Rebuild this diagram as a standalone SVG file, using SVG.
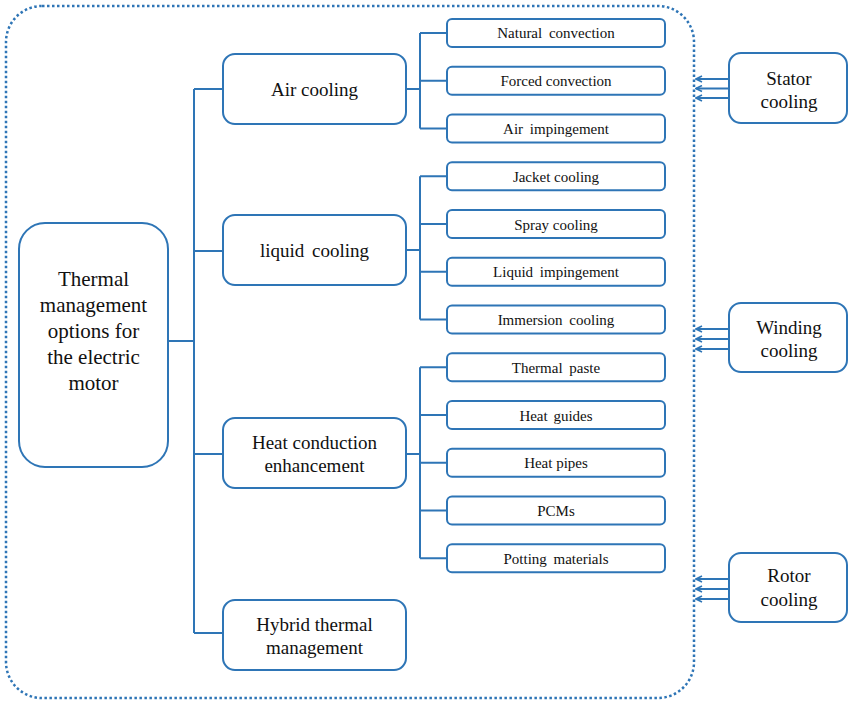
<svg xmlns="http://www.w3.org/2000/svg" width="850" height="702" viewBox="0 0 850 702">
<style>
.box{fill:#fff;stroke:#2E75B6;stroke-width:2}
.ln{fill:none;stroke:#2E75B6;stroke-width:2}
.ar{fill:none;stroke:#2E75B6;stroke-width:1.8}
.t{font-family:"Liberation Serif","DejaVu Serif","Times New Roman",serif;fill:#111;text-anchor:middle}
.big{font-size:21px}
.mid{font-size:19px}
.sm{font-size:15px}
</style>
<defs>
<marker id="ah" markerWidth="8" markerHeight="8" refX="1" refY="4" orient="auto" markerUnits="userSpaceOnUse">
<path d="M7,1 L1,4 L7,7" fill="none" stroke="#2E75B6" stroke-width="1.6"/>
</marker>
</defs>
<rect x="6" y="6" width="688" height="692" rx="36" fill="none" stroke="#2E75B6" stroke-width="2.5" stroke-dasharray="2.5 2.5"/>
<g id="connectors">
<path class="ln" d="M168,341 H194 M194,89 V633 M194,89 H223 M194,251 H223 M194,454 H223 M194,633 H223"/>
<path class="ln" d="M406,89 H420 M420,33 V128.5 M420,33 H447 M420,80.75 H447 M420,128.5 H447"/>
<path class="ln" d="M406,250 H420 M420,176.25 V319.5 M420,176.25 H447 M420,224 H447 M420,271.75 H447 M420,319.5 H447"/>
<path class="ln" d="M406,454 H420 M420,367.25 V558.25 M420,367.25 H447 M420,415 H447 M420,462.75 H447 M420,510.5 H447 M420,558.25 H447"/>
<line class="ar" marker-start="url(#ah)" x1="696" y1="79" x2="729" y2="79"/>
<line class="ar" marker-start="url(#ah)" x1="696" y1="88.5" x2="729" y2="88.5"/>
<line class="ar" marker-start="url(#ah)" x1="696" y1="98" x2="729" y2="98"/>
<line class="ar" marker-start="url(#ah)" x1="696" y1="329" x2="729" y2="329"/>
<line class="ar" marker-start="url(#ah)" x1="696" y1="339" x2="729" y2="339"/>
<line class="ar" marker-start="url(#ah)" x1="696" y1="349" x2="729" y2="349"/>
<line class="ar" marker-start="url(#ah)" x1="696" y1="579" x2="729" y2="579"/>
<line class="ar" marker-start="url(#ah)" x1="696" y1="589" x2="729" y2="589"/>
<line class="ar" marker-start="url(#ah)" x1="696" y1="599" x2="729" y2="599"/>
</g>
<g id="root">
<rect class="box" x="19" y="223" width="149" height="244" rx="26"/>
<text class="t big" font-family="Liberation Serif, serif"><tspan x="93.5" y="286">Thermal</tspan><tspan x="93.5" y="312">management</tspan><tspan x="93.5" y="338">options for</tspan><tspan x="93.5" y="364">the electric</tspan><tspan x="93.5" y="390">motor</tspan></text>
</g>
<g id="air">
<rect class="box" x="223" y="54" width="183" height="70" rx="12"/>
<text class="t mid" x="314.5" y="96">Air cooling</text>
</g>
<g id="liquid">
<rect class="box" x="223" y="215" width="183" height="70" rx="12"/>
<text class="t mid" x="314.5" y="257" word-spacing="3">liquid cooling</text>
</g>
<g id="conduction">
<rect class="box" x="223" y="418" width="183" height="70" rx="12"/>
<text class="t mid"><tspan x="314.5" y="449">Heat conduction</tspan><tspan x="314.5" y="472">enhancement</tspan></text>
</g>
<g id="hybrid">
<rect class="box" x="223" y="600" width="183" height="70" rx="12"/>
<text class="t mid"><tspan x="314.5" y="631">Hybrid thermal</tspan><tspan x="314.5" y="654">management</tspan></text>
</g>
<g id="natural"><rect class="box" x="447" y="19" width="218" height="28" rx="5"/><text class="t sm" x="556" y="38" word-spacing="3">Natural convection</text></g>
<g id="forced"><rect class="box" x="447" y="66.75" width="218" height="28" rx="5"/><text class="t sm" x="556" y="86">Forced convection</text></g>
<g id="airimp"><rect class="box" x="447" y="114.5" width="218" height="28" rx="5"/><text class="t sm" x="556" y="134" word-spacing="3">Air impingement</text></g>
<g id="jacket"><rect class="box" x="447" y="162.25" width="218" height="28" rx="5"/><text class="t sm" x="556" y="182">Jacket cooling</text></g>
<g id="spray"><rect class="box" x="447" y="210" width="218" height="28" rx="5"/><text class="t sm" x="556" y="229.5">Spray cooling</text></g>
<g id="liqimp"><rect class="box" x="447" y="257.75" width="218" height="28" rx="5"/><text class="t sm" x="556" y="277" word-spacing="3">Liquid impingement</text></g>
<g id="immersion"><rect class="box" x="447" y="305.5" width="218" height="28" rx="5"/><text class="t sm" x="556" y="325" word-spacing="3">Immersion cooling</text></g>
<g id="paste"><rect class="box" x="447" y="353.25" width="218" height="28" rx="5"/><text class="t sm" x="556" y="373" word-spacing="3">Thermal paste</text></g>
<g id="guides"><rect class="box" x="447" y="401" width="218" height="28" rx="5"/><text class="t sm" x="556" y="420.5" word-spacing="2">Heat guides</text></g>
<g id="pipes"><rect class="box" x="447" y="448.75" width="218" height="28" rx="5"/><text class="t sm" x="556" y="468">Heat pipes</text></g>
<g id="pcms"><rect class="box" x="447" y="496.5" width="218" height="28" rx="5"/><text class="t sm" x="556" y="516">PCMs</text></g>
<g id="potting"><rect class="box" x="447" y="544.25" width="218" height="28" rx="5"/><text class="t sm" x="556" y="564" word-spacing="3">Potting materials</text></g>
<g id="stator">
<rect class="box" x="729" y="53" width="118" height="70" rx="12"/>
<text class="t mid"><tspan x="789" y="85">Stator</tspan><tspan x="789" y="108">cooling</tspan></text>
</g>
<g id="winding">
<rect class="box" x="729" y="303" width="118" height="69" rx="12"/>
<text class="t mid"><tspan x="789" y="334">Winding</tspan><tspan x="789" y="357">cooling</tspan></text>
</g>
<g id="rotor">
<rect class="box" x="729" y="553" width="118" height="69" rx="12"/>
<text class="t mid"><tspan x="789" y="582">Rotor</tspan><tspan x="789" y="606">cooling</tspan></text>
</g>
</svg>
